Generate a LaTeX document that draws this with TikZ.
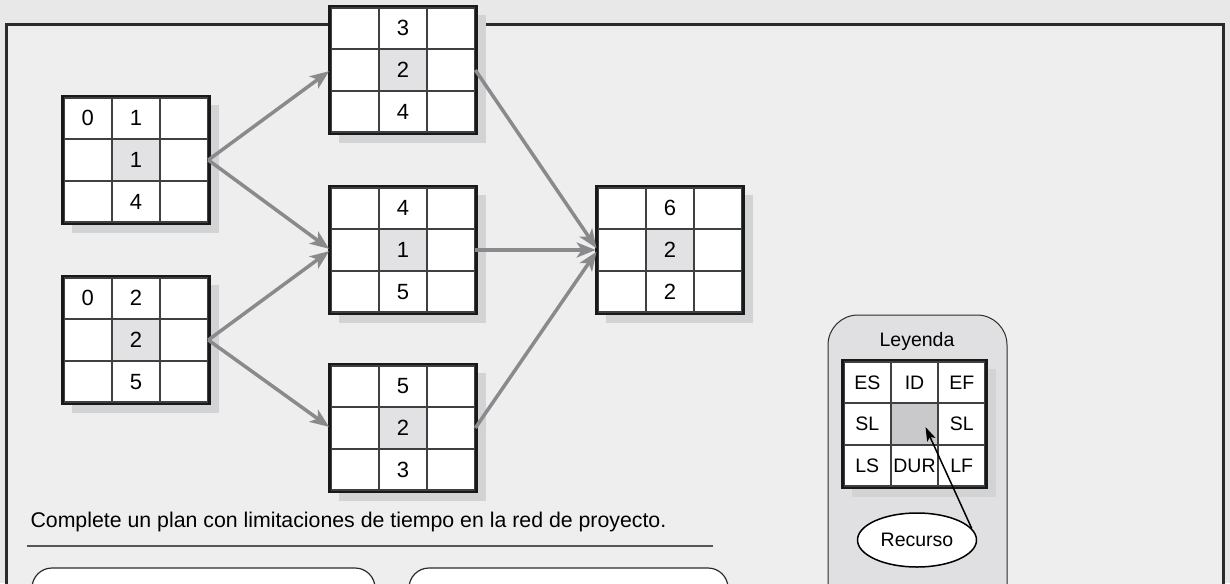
\documentclass[tikz,border=0pt]{standalone}
\usepackage{fontspec}
\setmainfont{Liberation Sans}
\usetikzlibrary{
  arrows.meta,
  positioning,
  matrix,
  calc,
  shapes.geometric
}
\definecolor{pagegray}{HTML}{E8E8E8}
\definecolor{panelgray}{HTML}{EEEEEE}
\definecolor{shadegray}{HTML}{D2D3D5}
\definecolor{durgray}{HTML}{E2E2E4}
\definecolor{legendgray}{HTML}{E0E0E2}
\definecolor{legcentre}{HTML}{C9C9CB}
\definecolor{linkgray}{HTML}{8A8A8C}
\definecolor{inkgray}{HTML}{2B2B2B}
\pgfdeclarelayer{background}
\pgfdeclarelayer{shade}
\pgfsetlayers{background,shade,main}
\tikzset{
  cell/.style={draw=inkgray!90, line width=1.2pt, fill=white,
    minimum width=47pt, minimum height=40.5pt,
    inner sep=0pt, outer sep=0pt, anchor=center,
    font=\fontsize{22}{22}\selectfont},
  actgrid/.style={matrix of nodes, nodes in empty cells,
    nodes={cell}, column sep=0pt, row sep=0pt,
    draw=black!90, line width=5pt, inner sep=0pt, outer sep=0pt},
  leggrid/.style={actgrid,
    nodes={minimum width=46pt, font=\fontsize{19.5}{19.5}\selectfont}},
  link/.style={linkgray, line width=3.5pt,
    -{Stealth[length=19pt, width=15pt, inset=5pt]}, shorten >=2pt},
  recarrow/.style={black, line width=1.5pt,
    -{Stealth[length=14pt, width=9pt, inset=3pt]}},
  panel/.style={draw=inkgray, line width=3pt, fill=panelgray},
  legendframe/.style={draw=inkgray, line width=1pt, fill=legendgray,
    rounded corners=30pt},
  slot/.style={draw=inkgray, line width=1.2pt, fill=white,
    rounded corners=20pt},
  recnode/.style={ellipse, draw=black, line width=1.5pt, fill=white,
    minimum width=119pt, minimum height=54pt, inner sep=0pt,
    font=\fontsize{19.5}{19.5}\selectfont},
}

\begin{document}
\begin{tikzpicture}[x=1pt, y=1pt]
  \useasboundingbox (0,0) rectangle (1230,-583);

  % Page and panel
  \begin{pgfonlayer}{background}
    \fill[pagegray] (0,0) rectangle (1230,-583);
    \draw[panel] (6,-25) rectangle (1223,-650);
    \draw[legendframe] (828,-315) rectangle (1007,-650);
  \end{pgfonlayer}

  % Activity grids
  \matrix[actgrid] (a1) at (136,-160) {
    0 & 1 & \\
      & |[fill=durgray]| 1 & \\
      & 4 & \\
  };
  \matrix[actgrid] (a2) at (136,-340) {
    0 & 2 & \\
      & |[fill=durgray]| 2 & \\
      & 5 & \\
  };
  \matrix[actgrid] (b1) at (403,-70) {
      & 3 & \\
      & |[fill=durgray]| 2 & \\
      & 4 & \\
  };
  \matrix[actgrid] (b2) at (403,-250) {
      & 4 & \\
      & |[fill=durgray]| 1 & \\
      & 5 & \\
  };
  \matrix[actgrid] (b3) at (403,-428) {
      & 5 & \\
      & |[fill=durgray]| 2 & \\
      & 3 & \\
  };
  \matrix[actgrid] (c1) at (670,-250) {
      & 6 & \\
      & |[fill=durgray]| 2 & \\
      & 2 & \\
  };

  % Links
  \draw[link] (a1.east) -- (b1.west);
  \draw[link] (a1.east) -- (b2.west);
  \draw[link] (a2.east) -- (b2.west);
  \draw[link] (a2.east) -- (b3.west);
  \draw[link] (b1.east) -- (c1.west);
  \draw[link] (b2.east) -- (c1.west);
  \draw[link] (b3.east) -- (c1.west);

  % Legend
  \node[font=\fontsize{19.5}{19.5}\selectfont] (legtitle) at (917,-341) {Leyenda};
  \matrix[leggrid] (leg) at (914.5,-424) {
    ES & ID & EF \\
    SL & |[fill=legcentre]| & SL \\
    LS & DUR & LF \\
  };
  \node[recnode] (rec) at (917,-540) {Recurso};
  \draw[recarrow] (rec.12) -- ($(leg-2-2.center)+(11,-3)$);

  % Shadows
  \begin{pgfonlayer}{shade}
    \foreach \g in {a1,a2,b1,b2,b3,c1,leg}
      \fill[shadegray] ($(\g.north west)+(8,-8)$) rectangle ($(\g.south east)+(10.5,-10.5)$);
  \end{pgfonlayer}

  % Task text and answer slots
  \node[anchor=west, font=\fontsize{21.3}{21.3}\selectfont] (task) at (27,-522)
    {Complete un plan con limitaciones de tiempo en la red de proyecto.};
  \draw[inkgray!80, line width=2pt] (27,-546) -- (713,-546);
  \draw[slot] (32,-568) rectangle (375,-650);
  \draw[slot] (409,-568) rectangle (728,-650);
\end{tikzpicture}
\end{document}
